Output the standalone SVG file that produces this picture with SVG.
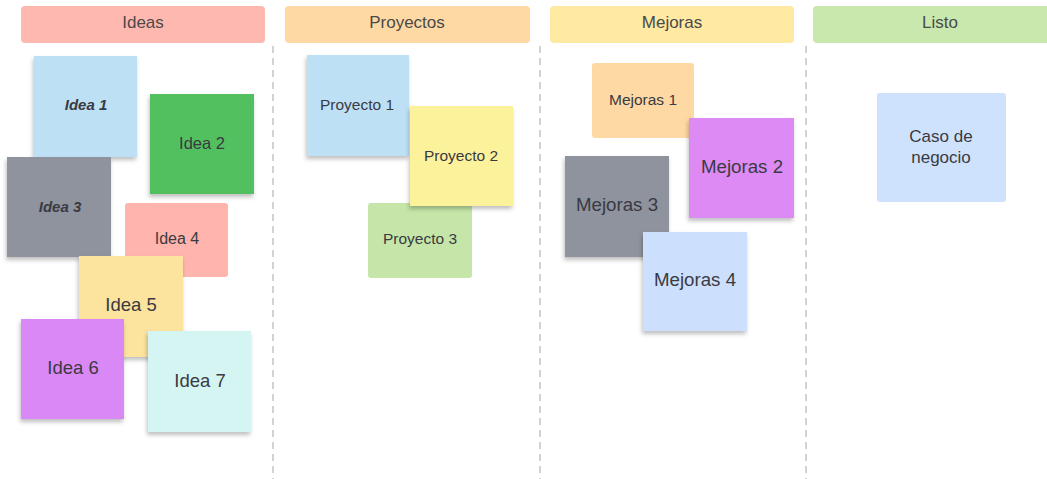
<svg xmlns="http://www.w3.org/2000/svg" width="1047" height="479" viewBox="0 0 1047 479">
<defs>
<filter id="sh" x="-20%" y="-20%" width="140%" height="150%">
<feDropShadow dx="-1" dy="3" stdDeviation="2" flood-color="#000" flood-opacity="0.25"/>
</filter>
</defs>
<style>
text{font-family:"Liberation Sans",Arial,sans-serif;fill:#3a3a42;text-anchor:middle;dominant-baseline:central}
.h{font-size:17px;fill:#4a4a4a}
.it{font-style:italic;font-weight:bold}
.div{stroke:#bbb;stroke-width:1.3;stroke-dasharray:7 5;fill:none}
</style>
<rect width="1047" height="479" fill="#fff"/>
<g id="headers">
<g id="h-ideas"><rect x="21" y="6" width="244" height="37" rx="4" fill="#FFB8B0"/><text class="h" x="143" y="22">Ideas</text></g>
<g id="h-proyectos"><rect x="285" y="6" width="245" height="37" rx="4" fill="#FFD9A3"/><text class="h" x="407" y="22">Proyectos</text></g>
<g id="h-mejoras"><rect x="550" y="6" width="244" height="37" rx="4" fill="#FFE9A3"/><text class="h" x="672" y="22">Mejoras</text></g>
<g id="h-listo"><rect x="813" y="6" width="240" height="37" rx="4" fill="#C8E8AE"/><text class="h" x="940" y="22">Listo</text></g>
</g>
<g id="dividers">
<line class="div" x1="273" y1="46" x2="273" y2="479"/>
<line class="div" x1="540" y1="46" x2="540" y2="479"/>
<line class="div" x1="806" y1="46" x2="806" y2="479"/>
</g>
<g id="idea1"><rect x="34" y="56" width="103" height="101" fill="#BEE0F5" filter="url(#sh)"/><text class="it" x="86" y="104" font-size="15">Idea 1</text></g>
<g id="idea2"><rect x="150" y="94" width="104" height="100" fill="#52C060" filter="url(#sh)"/><text x="202" y="143" font-size="16.5" fill="#222">Idea 2</text></g>
<g id="idea3"><rect x="7" y="157" width="104" height="100" fill="#8E939E" filter="url(#sh)"/><text class="it" x="60" y="206" font-size="15">Idea 3</text></g>
<g id="idea4"><rect x="125" y="203" width="103" height="74" rx="3" fill="#FFB5AD"/><text x="177" y="238" font-size="16">Idea 4</text></g>
<g id="idea5"><rect x="79" y="256" width="104" height="101" fill="#FCE39E" filter="url(#sh)"/><text x="131" y="304" font-size="18.5">Idea 5</text></g>
<g id="idea6"><rect x="21" y="319" width="103" height="100" fill="#DA88F5" filter="url(#sh)"/><text x="73" y="367" font-size="18.5">Idea 6</text></g>
<g id="idea7"><rect x="148" y="331" width="103" height="101" fill="#D4F5F2" filter="url(#sh)"/><text x="200" y="380" font-size="18.5">Idea 7</text></g>
<g id="proyecto1"><rect x="307" y="55" width="102" height="101" fill="#BEE0F5" filter="url(#sh)"/><text x="357" y="104" font-size="15.5" fill="#2a2a32">Proyecto 1</text></g>
<g id="proyecto3"><rect x="368" y="203" width="104" height="75" rx="3" fill="#C5E6A8"/><text x="420" y="238" font-size="15.5">Proyecto 3</text></g>
<g id="proyecto2"><rect x="410" y="106" width="103" height="100" fill="#FDF29C" filter="url(#sh)"/><text x="461" y="155" font-size="15.5" fill="#2a2a32">Proyecto 2</text></g>
<g id="mejoras1"><rect x="592" y="63" width="102" height="75" rx="3" fill="#FFD9A3"/><text x="643" y="99" font-size="15.5">Mejoras 1</text></g>
<g id="mejoras2"><rect x="689" y="118" width="105" height="100" fill="#DE8AF5" filter="url(#sh)"/><text x="742" y="166" font-size="18.7">Mejoras 2</text></g>
<g id="mejoras3"><rect x="565" y="156" width="104" height="101" fill="#8E939E" filter="url(#sh)"/><text x="617" y="204" font-size="18.7">Mejoras 3</text></g>
<g id="mejoras4"><rect x="643" y="232" width="104" height="99" fill="#CCE0FD" filter="url(#sh)"/><text x="695" y="279" font-size="18.7">Mejoras 4</text></g>
<g id="caso"><rect x="877" y="93" width="129" height="109" rx="3" fill="#CFE2FD"/><text x="941" y="136" font-size="17">Caso de</text><text x="941" y="157" font-size="17">negocio</text></g>
</svg>
